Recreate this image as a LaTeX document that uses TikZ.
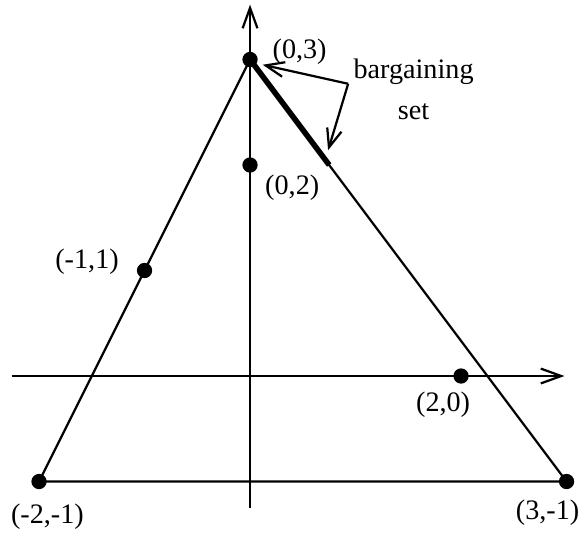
\documentclass[tikz,border=0pt]{standalone}
\usepackage{fontspec}
\setmainfont{Liberation Serif}
\usepackage{tikz}
\usetikzlibrary{arrows.meta, positioning, calc}

\begin{document}
\begin{tikzpicture}[
    dot/.style={circle, fill=black, inner sep=0pt, minimum size=0.145cm},
    lbl/.style={inner sep=0pt, font=\fontsize{7.6}{11}\selectfont},
    line/.style={draw, line width=0.6pt},
    axis/.style={draw, line width=0.6pt, -{Straight Barb[length=5.5pt, width=4pt, line width=0.6pt]}},
    pointer/.style={draw, line width=0.6pt, -{Straight Barb[length=5pt, width=4pt, line width=0.6pt]}},
    bset/.style={draw, line width=1.5pt}
]
\useasboundingbox (-2.37,-1.479) rectangle (3.156,3.564);

% Axes
\coordinate (xstart) at (-2.26,0);
\coordinate (xend) at (2.98,0);
\coordinate (ystart) at (0,-1.25);
\coordinate (yend) at (0,3.52);
\path[axis] (xstart) -- (xend);
\path[axis] (ystart) -- (yend);

% Nodes
\node[dot] (top) at (0,3) {};
\node[dot] (disagree) at (0,2) {};
\node[dot] (left) at (-1,1) {};
\node[dot] (right) at (2,0) {};
\node[dot] (lowleft) at (-2,-1) {};
\node[dot] (lowright) at (3,-1) {};
\coordinate (bsend) at (0.75,2);

\node[lbl] (toplbl) at (0.47,3.07) {(0,3)};
\node[lbl] (disagreelbl) at (0.40,1.78) {(0,2)};
\node[lbl] (leftlbl) at (-1.545,1.08) {(-1,1)};
\node[lbl] (rightlbl) at (1.83,-0.27) {(2,0)};
\node[lbl] (lowleftlbl) at (-1.92,-1.33) {(-2,-1)};
\node[lbl] (lowrightlbl) at (2.82,-1.30) {(3,-1)};
\node[lbl, align=center] (bsetlbl) at (1.55,2.72) {bargaining\\set};

% Paths
\path[line] (lowleft.center) -- (lowright.center) -- (top.center) -- cycle;
\path[bset] (top.center) -- (bsend);

% Pointers to the bargaining set
\coordinate (kink) at (0.93,2.77);
\coordinate (tipa) at (0.12,2.95);
\coordinate (tipb) at (0.74,2.14);
\path[pointer] (kink) -- (tipa);
\path[pointer] (kink) -- (tipb);

\end{tikzpicture}
\end{document}
